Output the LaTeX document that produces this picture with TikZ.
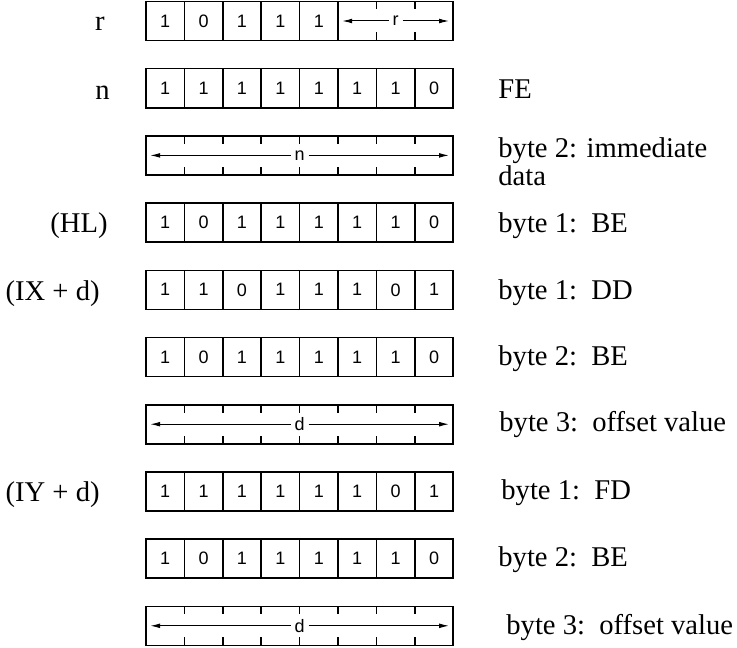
\documentclass[tikz,border=0pt]{standalone}
\usepackage{fontspec}
\setmainfont{Liberation Serif}
\newfontfamily\bitfont{Liberation Sans}
\usetikzlibrary{arrows.meta}
\usetikzlibrary{calc}

\tikzset{
	bitcell/.style={draw, line width=0.8pt, minimum width=19.2pt, minimum height=19.5pt, inner sep=0pt, font=\bitfont\fontsize{9}{9}\selectfont},
	fieldbox/.style={draw, line width=0.8pt, minimum height=19.5pt, inner sep=0pt},
	fieldtext/.style={inner sep=1.8pt, font=\bitfont\fontsize{9}{9}\selectfont},
	fieldarrow/.style={-{Latex[length=5pt,width=2.4pt]}, line width=0.5pt},
	fieldtick/.style={line width=0.8pt},
	lbl/.style={inner sep=0pt, font=\fontsize{14.3}{13}\selectfont}
}

\newcommand{\drawBits}[3]{
	\foreach \bit [count=\k] in {#3}
		\node[bitcell] (#1-\k) at ({146+(\k-0.5)*38.4}, #2) {\bit};
}
\newcommand{\drawField}[5]{
	\node[fieldbox, minimum width={(#4-#3+1)*19.2pt}] (#1) at ({146+(#3+#4-1)/2*38.4}, #2) {};
	\pgfmathtruncatemacro{\lastk}{#4-1}
	\foreach \k in {#3,...,\lastk} {
		\draw[fieldtick] ({146+\k*38.4}, #2-19.5) -- ++(0,8);
		\draw[fieldtick] ({146+\k*38.4}, #2+19.5) -- ++(0,-8);
	}
	\node[fieldtext] (#1-t) at (#1) {#5};
	\draw[fieldarrow] (#1-t) -- ([xshift=2.5pt]#1.west);
	\draw[fieldarrow] (#1-t) -- ([xshift=-2.5pt]#1.east);
}

\begin{document}
\begin{tikzpicture}[x=0.5pt, y=-0.5pt]
	\useasboundingbox (0,0) rectangle (737,647);

	\drawBits{rr}{21}{1,0,1,1,1}
	\drawField{rf}{21}{6}{8}{r}
	\drawBits{nn}{88.2}{1,1,1,1,1,1,1,0}
	\drawField{nf}{155.4}{1}{8}{n}
	\drawBits{hl}{222.6}{1,0,1,1,1,1,1,0}
	\drawBits{ix}{289.8}{1,1,0,1,1,1,0,1}
	\drawBits{ixb}{357}{1,0,1,1,1,1,1,0}
	\drawField{ixd}{424.2}{1}{8}{d}
	\drawBits{iy}{491.4}{1,1,1,1,1,1,0,1}
	\drawBits{iyb}{558.6}{1,0,1,1,1,1,1,0}
	\drawField{iyd}{625.8}{1}{8}{d}

	\node[lbl, anchor=base east] (l-r) at (105, 31) {r};
	\node[lbl, anchor=base east] (l-n) at (110, 99) {n};
	\node[lbl, anchor=base east] (l-hl) at (108, 232) {(HL)};
	\node[lbl, anchor=base east] (l-ix) at (100, 300) {(IX + d)};
	\node[lbl, anchor=base east] (l-iy) at (100, 501) {(IY + d)};

	\node[lbl, anchor=base west] (t-fe) at (498, 98) {FE};
	\node[lbl, anchor=north west, align=left] (t-imm) at (498, 137) {byte 2: immediate\\data};
	\node[lbl, anchor=base west] (t-hl) at (498, 232) {byte 1:\, BE};
	\node[lbl, anchor=base west] (t-ix) at (498, 299) {byte 1:\, DD};
	\node[lbl, anchor=base west] (t-ixb) at (498, 365) {byte 2:\, BE};
	\node[lbl, anchor=base west] (t-ixd) at (499, 431) {byte 3:\, offset value};
	\node[lbl, anchor=base west] (t-iy) at (501, 499) {byte 1:\, FD};
	\node[lbl, anchor=base west] (t-iyb) at (498, 566) {byte 2:\, BE};
	\node[lbl, anchor=base west] (t-iyd) at (506, 634) {byte 3:\, offset value};

\end{tikzpicture}
\end{document}
